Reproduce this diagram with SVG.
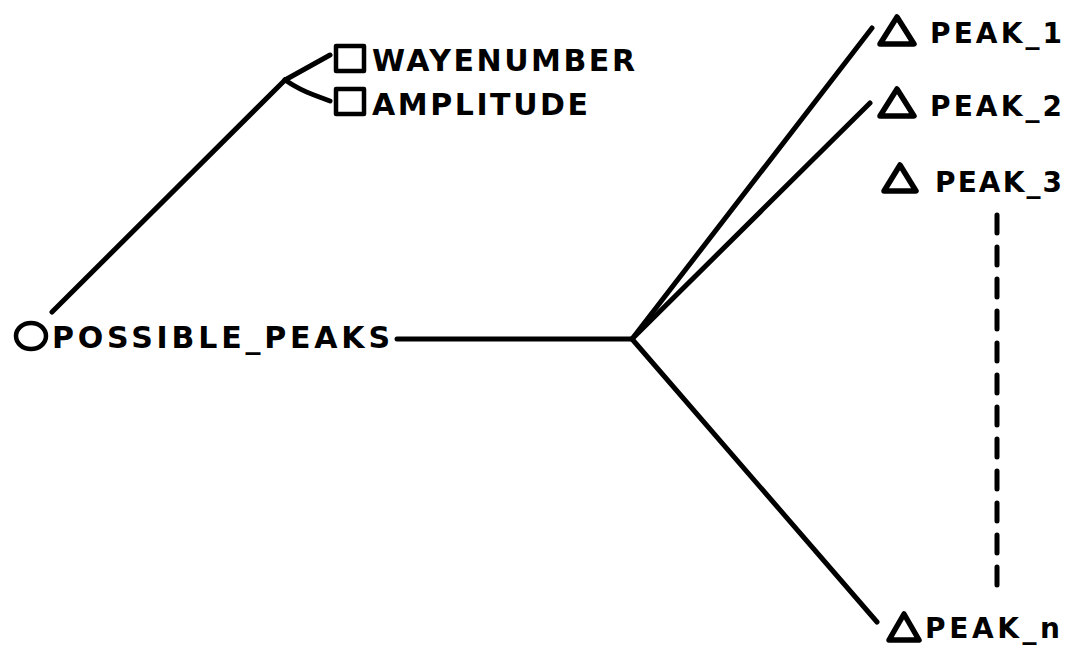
<svg xmlns="http://www.w3.org/2000/svg" width="1069" height="645" viewBox="0 0 1069 645">
<style>
.t{font-family:"DejaVu Sans","Liberation Sans",Arial,sans-serif;font-weight:bold;fill:#000}
.ln{stroke:#000;stroke-width:5;fill:none;stroke-linecap:round;stroke-linejoin:round}
.sh{stroke:#000;stroke-width:4.5;fill:none;stroke-linejoin:round}
.tri{stroke:#000;stroke-width:5.5;fill:none;stroke-linejoin:round}
</style>
<rect width="1069" height="645" fill="#fff"/>
<g id="connectors">
<path class="ln" d="M52 312 L285 80"/>
<path class="ln" d="M285 80 L330 55"/>
<path class="ln" d="M285 80 Q300 90 314 95 Q322 98 330 101"/>
<path class="ln" d="M397 339 L632 339"/>
<path class="ln" d="M632 339 L872 28"/>
<path class="ln" d="M632 339 L870 103"/>
<path class="ln" d="M632 339 L877 622"/>
<path class="ln" d="M997 215 L997 585" stroke-dasharray="18 14" stroke-linecap="butt"/>
</g>
<g id="possible_peaks">
<ellipse class="sh" cx="31" cy="336" rx="15" ry="13"/>
<text class="t" x="52" y="348" font-size="30" textLength="338" lengthAdjust="spacing">POSSIBLE_PEAKS</text>
</g>
<g id="wavenumber">
<rect class="sh" x="336" y="46" width="28" height="25"/>
<text class="t" x="372" y="71" font-size="30" textLength="263" lengthAdjust="spacing">WAYENUMBER</text>
</g>
<g id="amplitude">
<rect class="sh" x="336" y="89" width="28" height="25"/>
<text class="t" x="372" y="115" font-size="30" textLength="216" lengthAdjust="spacing">AMPLITUDE</text>
</g>
<g id="peak_1">
<path class="tri" d="M897 17 L914 44 L880 44 Z"/>
<text class="t" x="930" y="43" font-size="28" textLength="132" lengthAdjust="spacing">PEAK_1</text>
</g>
<g id="peak_2">
<path class="tri" d="M897 89 L914 116 L880 116 Z"/>
<text class="t" x="930" y="116" font-size="28" textLength="132" lengthAdjust="spacing">PEAK_2</text>
</g>
<g id="peak_3">
<path class="tri" d="M900 165 L916 191 L884 191 Z"/>
<text class="t" x="935" y="192" font-size="28" textLength="127" lengthAdjust="spacing">PEAK_3</text>
</g>
<g id="peak_n">
<path class="tri" d="M904 614 L919 640 L889 640 Z"/>
<text class="t" x="925" y="638" font-size="28" textLength="135" lengthAdjust="spacing">PEAK_n</text>
</g>
</svg>
